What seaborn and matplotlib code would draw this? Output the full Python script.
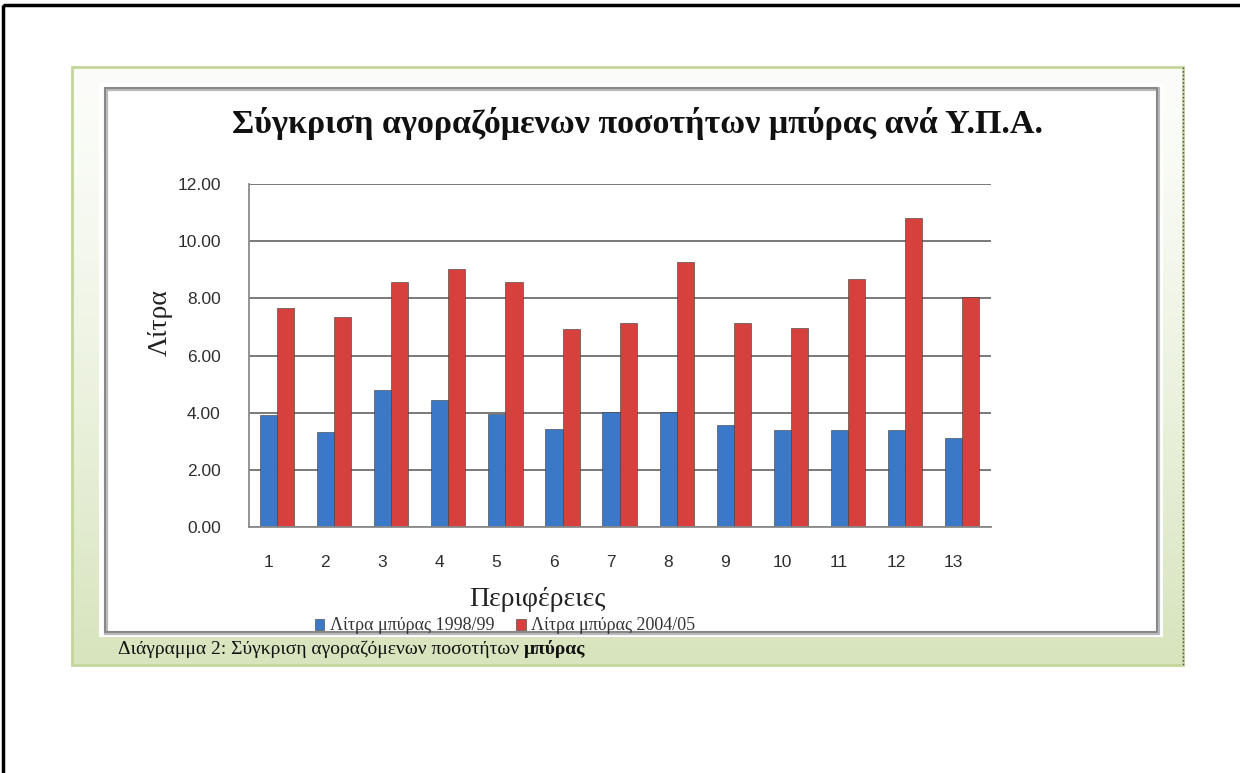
import numpy as np
import pandas as pd
import matplotlib
matplotlib.use("Agg")
import matplotlib.pyplot as plt
from matplotlib.patches import Rectangle
from matplotlib.transforms import ScaledTranslation
import seaborn as sns

# ---- data ----
regions = ["1", "2", "3", "4", "5", "6", "7", "8", "9", "10", "11", "12", "13"]
litres_1998 = [3.92, 3.34, 4.80, 4.45, 3.96, 3.43, 4.03, 4.03, 3.57, 3.40, 3.40, 3.40, 3.12]
litres_2004 = [7.67, 7.36, 8.58, 9.04, 8.58, 6.94, 7.15, 9.28, 7.15, 6.97, 8.69, 10.80, 8.06]
series_names = ["Λίτρα μπύρας 1998/99", "Λίτρα μπύρας 2004/05"]
y_ticks = [0, 2, 4, 6, 8, 10, 12]

title = "Σύγκριση αγοραζόμενων ποσοτήτων μπύρας ανά Υ.Π.Α."
x_title = "Περιφέρειες"
y_title = "Λίτρα"
caption_plain = "Διάγραμμα 2: Σύγκριση αγοραζόμενων ποσοτήτων "
caption_bold = "μπύρας"

df = pd.DataFrame({
    "Περιφέρεια": regions * 2,
    "Λίτρα": litres_1998 + litres_2004,
    "Σειρά": [series_names[0]] * len(regions) + [series_names[1]] * len(regions),
})

sns.set_style("white")
plt.rcParams["font.family"] = ["Liberation Sans", "DejaVu Sans"]
SERIF = ["Liberation Serif", "DejaVu Serif"]

W, H = 1240, 773
fig = plt.figure(figsize=(W / 100, H / 100), dpi=100)
fig.patch.set_facecolor("white")

# ---- page / frame background (pixel coordinates) ----
bg = fig.add_axes([0, 0, 1, 1], zorder=0)
bg.set_xlim(0, W)
bg.set_ylim(H, 0)
bg.axis("off")

top_c = np.array([0xfc, 0xfd, 0xfa]) / 255
bot_c = np.array([0xd7, 0xe4, 0xbd]) / 255
t = np.linspace(0, 1, 256) ** 1.3
grad = (top_c[None, :] * (1 - t[:, None]) + bot_c[None, :] * t[:, None])[:, None, :]
bg.imshow(grad, extent=(72, 1183, 665, 67), aspect="auto", zorder=1)
bg.add_patch(Rectangle((72, 67), 1111, 598, fill=False, ec="#c3d69b", lw=2, zorder=2))
bg.plot([1183, 1183], [67, 665], color="#444444", lw=1, ls=":", zorder=3)

bg.add_patch(Rectangle((99, 83), 1064, 554, fc="white", ec="none", zorder=3))
bg.add_patch(Rectangle((106, 89), 1052, 544, fill=False, ec="#b8b8b8", lw=3, zorder=4))
bg.add_patch(Rectangle((105, 88), 1052, 544, fill=False, ec="#7f7f7f", lw=1.2, zorder=4))

bg.add_patch(Rectangle((3, 5), 1400, 1000, fill=False, ec="black", lw=2.5, zorder=5))

# ---- main chart ----
ax_left, ax_right = 248.5, 990.7
ax_bot, ax_top = 527, 184
ax = fig.add_axes([ax_left / W, (H - ax_bot) / H, (ax_right - ax_left) / W, (ax_bot - ax_top) / H], zorder=2)
ax.set_facecolor("none")

sns.barplot(data=df, x="Περιφέρεια", y="Λίτρα", hue="Σειρά",
            palette=["#3b78c8", "#d6403d"], width=0.6, ax=ax,
            edgecolor="#3a3a3a", linewidth=0.4, saturation=1)

ax.set_ylim(0, 12)
ax.set_xlim(-0.5, len(regions) - 0.5)
ax.set_yticks(y_ticks)
ax.set_yticklabels([f"{v:.2f}" for v in y_ticks])
ax.yaxis.grid(True, color="#6e6e6e", lw=1.3)
ax.set_axisbelow(True)
for s in ["top", "right"]:
    ax.spines[s].set_visible(False)
for s in ["left", "bottom"]:
    ax.spines[s].set_color("#8a8a8a")
    ax.spines[s].set_linewidth(1.3)
ax.tick_params(axis="y", length=0, pad=20, labelsize=12.5, labelcolor="#2e2e2e")
ax.tick_params(axis="x", length=0, pad=20, labelsize=12.5, labelcolor="#2e2e2e")
off = ScaledTranslation(-0.09, 0, fig.dpi_scale_trans)
for lab in ax.get_xticklabels():
    lab.set_transform(lab.get_transform() + off)
ax.set_xlabel("")
ax.set_ylabel("")

handles, labels = ax.get_legend_handles_labels()
ax.legend_.remove()
fig.legend(handles, labels, loc="center", bbox_to_anchor=(505 / W, 1 - 626 / H),
           ncol=2, frameon=False, handlelength=0.55, handleheight=0.55,
           handletextpad=0.3, columnspacing=1.2,
           prop={"family": SERIF, "size": 13}, labelcolor="#333333")

# ---- texts ----
fig.text(638 / W, 1 - 124 / H, title, ha="center", va="center",
         family=SERIF, fontsize=24.5, fontweight="bold", color="#111111")
fig.text(537 / W, 1 - 599 / H, x_title, ha="center", va="center",
         family=SERIF, fontsize=20, color="#222222")
fig.text(160 / W, 1 - 323 / H, y_title, ha="center", va="center", rotation=90,
         family=SERIF, fontsize=20, color="#222222")

cap = fig.text(118 / W, 1 - 649 / H, caption_plain, ha="left", va="center",
               family=SERIF, fontsize=14, color="#111111")
fig.canvas.draw()
bb = cap.get_window_extent()
fig.text(bb.x1 / W, 1 - 649 / H, caption_bold, ha="left", va="center",
         family=SERIF, fontsize=14, fontweight="bold", color="#111111")

fig.savefig("out.png", dpi=100)
